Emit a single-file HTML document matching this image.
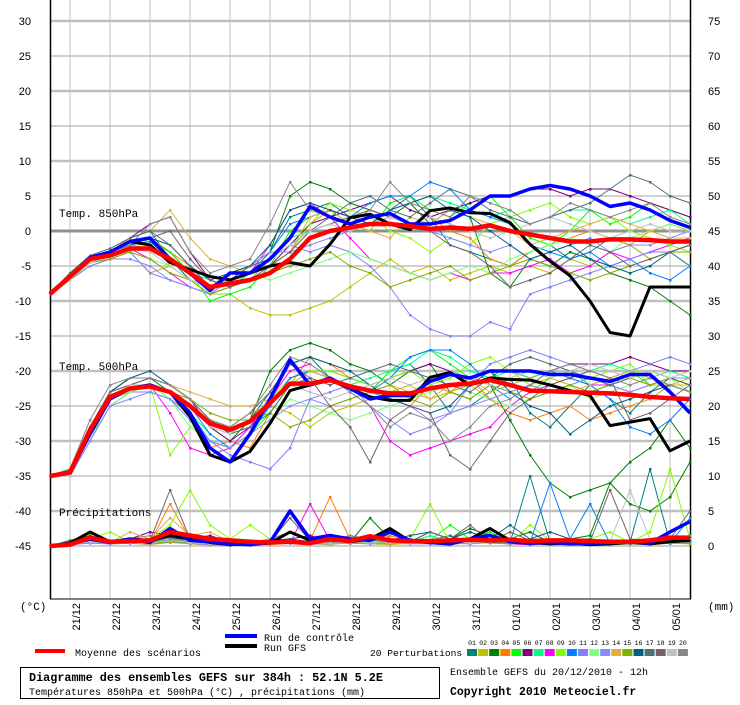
<!DOCTYPE html>
<html><head><meta charset="utf-8"><style>
body{margin:0;background:#fff;}
svg text{font-family:"Liberation Sans",sans-serif;}
.mono{font-family:"Liberation Mono",monospace;}
</style></head><body>
<svg id="c" width="740" height="700" xmlns="http://www.w3.org/2000/svg"></svg>
<script>
// ---- data (12h steps from 20/12 12h to 05/01 00h) ----
const dates=["21/12","22/12","23/12","24/12","25/12","26/12","27/12","28/12","29/12","30/12","31/12","01/01","02/01","03/01","04/01","05/01"];
const leftTicks=[30,25,20,15,10,5,0,-5,-10,-15,-20,-25,-30,-35,-40,-45];
const rightTicks=[75,70,65,60,55,50,45,40,35,30,25,20,15,10,5,0];
const pertColors=["#008080","#c0c000","#008000","#ff8000","#00ff00","#800080","#00ff80","#ff00ff","#80ff00","#0080ff","#8080ff","#80ff80","#8888ff","#e0b040","#80b000","#006080","#507078","#786070","#c0c0c0","#888888"];
const mean850=[-9,-6.5,-4,-3.5,-2.5,-2.5,-4,-6,-8,-7.5,-7,-6,-4,-1,0,0.5,1,1,0.7,0.3,0.5,0.3,0.8,0,-0.5,-1,-1.5,-1.5,-1.2,-1.2,-1.3,-1.5,-1.5];
const ctrl850=[-9,-6.5,-3.8,-3,-1.5,-1,-4,-6,-8.5,-6,-6,-4,-1,3.5,2,1,2,2.5,1,1,1.5,3,5,5,6,6.5,6,5,3.5,4,3,1.5,0.5];
const gfs850=[-9,-6.5,-4,-3,-1.5,-2,-4.5,-5.5,-6.5,-7,-6,-5,-4.5,-5,-1.9,1.9,2.4,1,0.2,2.9,3.3,2.6,2.5,1.2,-1.9,-4.3,-6.4,-10,-14.5,-15,-8,-8,-8];
const mean500=[-35,-34.5,-28.4,-23.7,-22.5,-22.2,-23,-25,-27.5,-28.4,-27.2,-24.6,-21.8,-21.8,-21.3,-22.2,-22.8,-23.2,-23.2,-22.5,-22,-21.8,-21.3,-22,-22.8,-22.9,-23,-23.1,-23.2,-23.4,-23.7,-23.9,-24];
const ctrl500=[-35,-34.5,-29,-24,-22.5,-22,-23,-26,-31,-33,-29,-24,-18.4,-22,-21,-22.5,-24,-23.5,-23.5,-21.5,-20.5,-21,-20,-20,-20,-20.5,-20.5,-21,-21.5,-20.5,-20.5,-23,-26];
const gfs500=[-35,-34.5,-29,-24,-22.5,-22,-23,-26.5,-32,-33,-31.5,-27.5,-22.8,-22,-21.3,-22.5,-23.7,-24.2,-24.2,-20.9,-20.2,-22,-21,-21.2,-21.3,-22,-22.8,-23.5,-27.8,-27.3,-26.8,-31.4,-30];
const meanPr=[0,0.2,1.2,0.6,0.7,0.8,2,1.5,1,0.8,0.6,0.5,0.6,0.4,1,0.7,1.4,0.8,0.7,0.7,0.8,0.9,0.8,0.9,0.7,0.8,0.8,0.7,0.6,0.6,0.8,1.2,1.2];
const ctrlPr=[0,0.3,1,0.5,1,0.5,2.5,0.8,0.6,0.3,0.2,0.5,5,1,1.5,1,0.8,2,0.8,0.5,0.3,1,1.5,0.6,0.4,0.5,0.3,0.4,0.5,0.6,0.4,2,3.5];
const gfsPr=[0,0.4,2,0.6,1,0.8,1.5,1,0.5,0.2,0.3,0.4,2,0.8,1,0.6,1,2.5,0.7,0.6,0.4,1,2.5,0.8,0.5,0.3,0.4,0.2,0.3,0.5,0.3,0.6,0.8];
const p850=[
[-9,-6,-3.5,-3,-1,0,-4,-7,-8,-7,-6,-3,2,3,4,2,1,3,5,2,-2,-3,-4,-5,-3,-2,-4,-3,-1,-2,-4,-3,-5],
[-9,-7,-4.5,-4,-3,-6,-5,-7,-9,-9,-11,-12,-12,-11,-10,-8,-6,-4,-6,-5,-7,-6,-5,-6,-5,-6,-4,-5,-3,-2,-4,-3,-2],
[-9,-6,-4,-3,-1.5,-1,-3,-6,-8,-6,-5,-3,5,7,6,4,3,2,4,1,3,2,-6,-8,-4,-5,-3,-4,-6,-7,-8,-10,-12],
[-9,-6.5,-4,-3,-2,-1,-3,-5,-7,-8,-7,-5,-3,1,3,2,1,2,1,2,0,-1,-4,-5,-3,-2,-1,0,-1,-2,0,1,0],
[-9,-6.5,-4,-3,-2,-1.5,-3,-6,-10,-9,-8,-5,0,2,3,1,0,4,5,3,2,4,5,2,-1,-2,0,3,1,2,4,3,2],
[-9,-6.5,-4,-3,-1,1,2,-3,-7,-8,-6,-5,-2,1,2,3,4,5,3,2,3,4,5,5,6,6,5,6,6,5,4,3,2],
[-9,-7,-4.5,-3.5,-2,-2.5,-4,-6,-7,-8,-6,-4,-1,0,1,2,1,3,4,5,4,3,2,3,1,2,3,3,2,1,2,3,1],
[-9,-7,-4,-3.5,-2.5,-4,-6,-8,-9,-7,-6,-2,3,4,2,-1,-4,-5,-6,-7,-6,-7,-6,-6,-5,-4,-6,-5,-3,-4,-3,-2,-1],
[-9,-7,-5,-4,-3,-1,-5,-7,-9,-8,-7,-5,-3,1,4,3,2,0,-1,-3,-1,-2,1,2,3,4,2,1,2,0,-1,-2,-3],
[-9,-6.5,-4,-3,-2,-1.5,-4,-6,-8,-7,-5,-3,1,2,3,2,4,5,5,7,6,3,2,1,-2,-3,-4,-3,-5,-4,-6,-7,-5],
[-9,-7,-5,-4,-3,-6,-7,-8,-9,-8,-7,-4,-2,-3,-2,-3,-5,-8,-12,-14,-15,-15,-13,-14,-9,-8,-7,-6,-5,-4,-3,-3,-3],
[-9,-7,-4.5,-4,-3,-4,-5,-7,-8,-7,-6,-7,-6,-5,-4,-3,-4,-5,-6,-7,-6,-5,-6,-4,-3,-2,-1,-2,-3,-1,0,1,0],
[-9,-7,-5,-4,-4,-5,-7,-8,-9,-7,-5,-3,-3,-2,-1,0,1,2,1,0,-1,-2,-3,-2,-4,-3,-2,-1,-3,-2,-2,-1,0],
[-9,-6,-3.5,-3,-1,0,3,-1,-4,-5,-6,-5,-3,2,3,1,0,-1,2,1,3,2,1,0,-2,-1,0,1,2,1,0,-1,-1],
[-9,-7,-4.5,-4,-3,-4,-6,-7,-9,-8,-7,-6,-5,-4,-3,-5,-6,-8,-7,-6,-5,-7,-6,-5,-4,-5,-6,-7,-6,-5,-4,-3,-3],
[-9,-6.5,-4,-3,-2,-1,-2,-5,-7,-6,-5,-2,3,4,3,2,1,3,4,5,3,2,0,-2,-4,-3,-2,-4,-5,-6,-5,-3,-2],
[-9,-6,-3.5,-2.5,-1,0,-2,-5,-8,-7,-5,-4,-2,0,2,4,5,3,2,4,6,5,3,2,1,2,3,4,6,8,7,5,4],
[-9,-6.5,-4,-3,-2,-1,0,-4,-7,-8,-7,-5,-3,0,1,2,3,2,1,0,-2,-3,-5,-8,-7,-6,-4,-2,-3,-5,-4,-3,-2],
[-9,-7,-4.5,-3.5,-2.5,-3,-5,-7,-8,-7,-6,-4,-2,0,1,0,1,2,1,2,1,0,-1,0,1,2,1,0,-1,0,1,0,0],
[-9,-6.5,-4,-3,-2,1,2,-3,-6,-5,-4,1,7,3,2,1,3,7,4,3,2,5,4,3,1,2,4,3,2,3,4,2,1]];
const p500=[
[-35,-34,-28,-23,-21,-21,-22,-24,-27,-29,-27,-23,-19,-18,-21,-22,-23,-20,-19,-22,-26,-25,-23,-21,-26,-28,-25,-22,-24,-26,-23,-21,-22],
[-35,-35,-29,-24,-23,-22,-23,-25,-27,-28,-26,-25,-26,-28,-26,-25,-24,-23,-22,-24,-23,-22,-24,-23,-22,-21,-22,-23,-22,-21,-22,-22,-21],
[-35,-34,-28,-23,-21,-21,-23,-25,-28,-30,-27,-20,-17,-16,-17,-19,-20,-22,-20,-19,-23,-24,-22,-27,-32,-36,-38,-37,-36,-33,-31,-27,-31],
[-35,-34.5,-29,-24,-22,-22,-23,-26,-31,-30,-31,-26,-22,-18,-19,-21,-22,-24,-25,-22,-23,-21,-24,-26,-27,-26,-25,-27,-26,-25,-24,-22,-22],
[-35,-35,-29,-24,-23,-22,-24,-26,-30,-31,-29,-26,-22,-20,-21,-22,-23,-20,-18,-17,-19,-21,-20,-22,-23,-21,-20,-22,-21,-20,-22,-21,-21],
[-35,-34.5,-29,-23,-21,-21,-22,-24,-28,-30,-28,-25,-21,-20,-20,-21,-22,-21,-20,-19,-20,-21,-20,-20,-21,-20,-19,-19,-19,-18,-19,-20,-20],
[-35,-34.5,-29,-24,-22,-22,-23,-26,-29,-31,-29,-25,-21,-20,-21,-22,-21,-20,-19,-17,-18,-20,-21,-20,-21,-20,-21,-20,-19,-20,-21,-20,-21],
[-35,-35,-30,-25,-23,-22,-26,-31,-32,-31,-28,-24,-20,-19,-21,-23,-25,-30,-32,-31,-30,-29,-28,-25,-23,-22,-21,-22,-22,-23,-22,-21,-22],
[-35,-35,-30,-24,-23,-22,-32,-28,-30,-31,-29,-24,-21,-20,-20,-21,-22,-21,-20,-22,-21,-19,-18,-20,-22,-23,-22,-21,-20,-19,-22,-21,-23],
[-35,-34.5,-29,-24,-22,-22,-23,-25,-29,-31,-29,-25,-21,-20,-21,-22,-23,-21,-18,-17,-17,-19,-22,-24,-22,-20,-21,-22,-24,-28,-29,-27,-24],
[-35,-35,-30,-25,-23,-23,-24,-26,-30,-32,-33,-34,-31,-24,-23,-22,-25,-27,-29,-28,-26,-22,-19,-18,-17,-18,-19,-20,-21,-20,-19,-18,-19],
[-35,-35,-30,-25,-23,-22,-24,-28,-30,-31,-29,-27,-24,-25,-26,-27,-26,-25,-24,-23,-22,-23,-24,-25,-24,-23,-22,-24,-23,-22,-21,-22,-23],
[-35,-35,-30,-25,-24,-23,-24,-27,-30,-31,-29,-27,-25,-24,-25,-24,-23,-24,-25,-27,-26,-25,-24,-23,-22,-23,-22,-21,-22,-23,-22,-21,-21],
[-35,-34.5,-29,-23,-21,-21,-22,-23,-24,-25,-25,-24,-22,-20,-21,-22,-23,-22,-23,-24,-22,-21,-23,-22,-21,-22,-23,-22,-21,-20,-21,-22,-22],
[-35,-34.5,-29,-24,-22,-22,-23,-24,-26,-27,-27,-26,-28,-27,-25,-24,-23,-22,-24,-25,-23,-24,-22,-23,-24,-23,-22,-23,-22,-21,-22,-21,-22],
[-35,-34.5,-28,-23,-21,-20,-22,-24,-27,-29,-27,-24,-19,-18,-19,-20,-22,-24,-25,-26,-25,-22,-20,-23,-25,-26,-29,-27,-25,-24,-23,-22,-23],
[-35,-34.5,-29,-23,-22,-21,-22,-24,-27,-29,-28,-26,-22,-21,-22,-21,-20,-19,-20,-21,-22,-23,-21,-19,-18,-19,-20,-21,-22,-21,-20,-21,-22],
[-35,-34,-28,-23,-22,-21,-22,-24,-27,-28,-26,-23,-19,-21,-25,-28,-33,-27,-25,-26,-32,-34,-30,-26,-24,-22,-21,-20,-21,-27,-26,-24,-22],
[-35,-35,-29,-24,-22,-22,-23,-25,-28,-29,-27,-24,-22,-23,-24,-23,-22,-21,-22,-21,-20,-21,-22,-21,-20,-21,-20,-19,-20,-21,-20,-21,-20],
[-35,-34,-27,-22,-21,-21,-22,-24,-27,-28,-26,-22,-18,-19,-21,-23,-25,-28,-26,-27,-30,-28,-25,-24,-22,-20,-19,-20,-21,-22,-21,-22,-23]];
const pPr=[
[0,0.5,1,0.3,0.8,0.5,1.5,0.4,0.2,0.1,0.3,0.5,1,0.6,0.3,1.5,0.6,1,0.4,0.8,1.5,0.5,2,0.5,10,0.6,1,0.4,0.2,0.5,11,0.5,0.4],
[0,0.2,0.5,0.3,0.4,0.2,0.5,0.3,0.1,0.2,0.1,0.2,0.4,0.3,0.2,0.5,0.3,0.2,0.4,0.3,0.2,0.5,0.4,0.3,0.2,0.3,0.4,0.3,0.2,0.3,0.5,0.4,0.3],
[0,0.8,1.5,0.5,1,0.6,1,0.5,0.3,0.2,0.2,0.6,2,1,0.8,0.5,4,1,0.6,2,1,2.5,1.5,1,2,0.5,1,1.5,9,6,5,7,12],
[0,0.3,0.6,0.5,0.6,0.5,6,1,0.5,0.3,0.8,0.6,0.5,0.8,7,1,1,1.5,0.6,0.3,0.5,0.8,0.6,0.3,0.2,0.5,0.4,0.3,0.3,0.4,0.2,0.4,0.5],
[0,0.4,1.8,0.5,0.7,0.5,1,0.6,0.4,0.2,0.3,0.6,0.8,0.5,0.6,0.8,1,0.6,0.5,0.8,3,1,2,0.6,0.5,0.4,0.6,0.5,0.3,0.6,0.4,0.5,0.6],
[0,0.6,0.8,0.5,1,2,1.5,1,1.5,0.5,0.4,0.8,1,1.5,0.6,0.4,0.8,1,0.6,0.5,0.8,1,2.5,0.6,0.8,0.5,0.4,0.6,0.8,0.6,0.7,0.8,1],
[0,0.3,0.8,0.4,0.5,0.4,0.8,0.5,0.3,0.2,0.2,0.4,0.6,0.5,0.4,0.6,0.5,1,0.5,1.5,0.6,0.5,1,0.4,0.6,0.5,0.4,0.5,0.3,0.4,0.3,0.5,0.6],
[0,0.2,0.5,0.3,0.4,0.3,0.6,0.4,0.2,0.1,0.2,0.3,0.4,6,0.8,0.5,0.6,2,0.6,0.3,0.4,0.6,0.5,0.3,0.2,0.4,0.3,0.2,0.3,0.4,0.3,0.5,0.4],
[0,0.5,1,2,0.6,1,3,8,3,1,3,1,0.6,0.5,0.4,0.5,0.6,0.8,1,6,0.5,0.6,1.5,0.4,3,0.8,0.6,1,2,0.5,2,11,1],
[0,0.3,0.6,0.4,0.5,0.4,1,0.5,0.3,0.2,0.2,0.5,0.6,0.4,0.5,0.6,0.5,0.8,0.6,0.4,0.5,0.6,1,0.8,0.5,9,1,6,0.4,0.6,0.5,0.4,4],
[0,0.2,0.5,0.3,0.6,0.5,0.8,0.5,0.3,0.2,0.2,0.4,0.5,0.3,0.4,0.5,0.4,0.6,0.5,0.3,0.4,0.5,0.6,0.4,0.5,0.6,0.5,0.4,0.6,0.5,1,0.8,1.5],
[0,0.3,0.6,0.4,0.5,0.6,1,0.6,0.4,0.3,0.2,0.4,0.5,0.4,0.6,0.5,0.4,0.5,0.4,0.6,0.5,0.4,0.6,1,0.5,0.6,0.5,0.4,0.5,0.6,0.5,0.7,0.6],
[0,0.2,0.4,0.3,0.4,0.3,0.6,0.4,0.2,0.2,0.1,0.3,0.4,0.3,0.3,0.4,0.3,0.4,0.3,0.3,0.4,0.3,0.5,0.3,0.4,0.3,0.4,0.3,0.4,0.3,0.4,0.5,0.4],
[0,0.4,0.8,0.5,2,1,4,1.5,2,0.6,0.4,0.5,0.8,0.6,0.5,0.7,0.6,0.5,0.6,0.5,0.4,0.6,0.5,0.8,0.6,0.5,0.4,0.6,0.5,0.4,1,0.6,0.5],
[0,0.3,0.7,0.4,0.5,0.4,0.6,0.5,0.3,0.2,0.3,0.4,0.5,0.4,0.5,0.4,0.6,0.5,0.4,0.5,0.4,0.6,0.5,0.4,0.5,0.4,0.3,0.5,0.4,0.3,0.4,0.5,0.4],
[0,0.5,1,0.6,0.8,0.6,1.2,0.8,0.5,0.3,0.4,0.8,1,0.6,0.8,0.6,1,0.8,1.5,2,1,2,1,3,1,2,1,1,0.5,0.8,0.6,1,0.8],
[0,0.3,0.7,0.4,0.6,0.5,0.8,0.6,0.4,0.3,0.3,0.5,0.6,0.5,0.6,0.5,0.6,0.5,0.6,0.5,0.6,0.7,0.5,0.6,1,0.8,0.5,0.6,0.5,0.4,1,0.6,0.5],
[0,0.4,0.8,0.5,1,0.8,8,1,0.5,0.3,0.4,0.6,4,0.8,0.6,0.5,0.8,1,0.6,2,1,3,0.6,2,0.8,0.5,0.4,0.6,8,1,0.8,1,5],
[0,0.3,0.6,0.4,0.5,0.4,0.8,0.5,0.3,0.2,0.3,0.4,0.6,0.5,0.4,0.5,0.6,0.5,0.4,0.5,0.6,0.5,0.6,1,0.5,0.6,0.8,0.5,0.6,8,1,0.6,0.5],
[0,0.5,1,0.6,1,1.5,1,0.8,0.6,0.4,0.5,1,2,1,0.8,1.5,1,0.8,1,0.6,1,0.8,1,0.6,0.8,0.6,0.5,0.6,0.5,0.6,0.8,0.6,0.5]];
// ---- scales ----
const X0=50, DX=20;
function xs(i){return X0+i*DX;}
function yT(t){return 231-t*7;}
function yP(p){return 546-p*7;}
const NS="http://www.w3.org/2000/svg";
const svg=document.getElementById('c');
function el(tag,attrs,parent){const e=document.createElementNS(NS,tag);for(const k in attrs)e.setAttribute(k,attrs[k]);(parent||svg).appendChild(e);return e;}
function txt(x,y,s,attrs){const t=el('text',Object.assign({x:x,y:y},attrs||{}));t.textContent=s;return t;}

// grid
const grid=el('g',{});


for(let k=0;k<16;k++){
  const x=70+k*40;
  el('line',{x1:x,y1:0,x2:x,y2:599,stroke:'#c0c0c0','stroke-width':1},grid);
}
leftTicks.forEach(function(v){
  const y=yT(v);
  const thick=(v%10===0);
  el('line',{x1:50,y1:y,x2:690,y2:y,stroke:v===0?'#909090':'#c0c0c0','stroke-width':v===0?3:(thick?2.5:1.5)},grid);
});
// axes
el('line',{x1:50.5,y1:0,x2:50.5,y2:599,stroke:'#000','stroke-width':1.5});
el('line',{x1:690.5,y1:0,x2:690.5,y2:599,stroke:'#000','stroke-width':1.5});
el('line',{x1:50,y1:599,x2:691,y2:599,stroke:'#000','stroke-width':1});

// tick labels
leftTicks.forEach(function(v){
  const t=txt(31,yT(v)+4,String(v),{'font-size':11,'text-anchor':'end',fill:'#000'});
  
  
});
rightTicks.forEach(function(v,i){
  const t=txt(708,yT(leftTicks[i])+4,String(v),{'font-size':11,fill:'#000'});
  
  
});
dates.forEach(function(d,i){
  const x=80+i*40;
  const t=txt(0,0,d,{'font-size':11,'text-anchor':'end',transform:'translate('+x+',603) rotate(-90)'});
  
  
});

// series drawing
function pts(arr,yf){return arr.map(function(v,i){return xs(i)+','+yf(v).toFixed(1);}).join(' ');}
function pline(arr,yf,color,w,markers){
  const g=el('g',{});
  
  
  el('polyline',{points:pts(arr,yf),fill:'none',stroke:color,'stroke-width':w,'stroke-linejoin':'round'},g);
  if(markers){arr.forEach(function(v,i){el('rect',{x:xs(i)-1,y:yf(v)-1,width:2.5,height:2.5,fill:color},g);});}
  return g;
}
[[p850,yT],[p500,yT],[pPr,yP]].forEach(function(pair){
  pair[0].forEach(function(s,k){const g=pline(s,pair[1],pertColors[k],1,true);});
});
const gf1=pline(gfs850,yT,'#000',3,false);
const gf2=pline(gfs500,yT,'#000',3,false);
const gf3=pline(gfsPr,yP,'#000',3,false);
const c1=pline(ctrl850,yT,'#0000ff',3.5,false);
const c2=pline(ctrl500,yT,'#0000ff',3.5,false);
const c3=pline(ctrlPr,yP,'#0000ff',3.5,false);
const m1=pline(mean850,yT,'#ff0000',4.5,false);
const m2=pline(mean500,yT,'#ff0000',4.5,false);
const m3=pline(meanPr,yP,'#ff0000',4.5,false);

// section labels
const l1=txt(59,217,'Temp. 850hPa',{'font-size':11,class:'mono'});


const l2=txt(59,370,'Temp. 500hPa',{'font-size':11,class:'mono'});


const l3=txt(59,516,'Précipitations',{'font-size':11,class:'mono'});


const u1=txt(20,610,'(°C)',{'font-size':11,class:'mono'});


const u2=txt(708,610,'(mm)',{'font-size':11,class:'mono'});



// legend
el('line',{x1:35,y1:651,x2:65,y2:651,stroke:'#ff0000','stroke-width':4});
const lg1=txt(75,656,'Moyenne des scénarios',{'font-size':10,class:'mono'});


el('line',{x1:225,y1:636,x2:257,y2:636,stroke:'#0000ff','stroke-width':4});
const lg2=txt(264,641,'Run de contrôle',{'font-size':10,class:'mono'});


el('line',{x1:225,y1:646,x2:257,y2:646,stroke:'#000','stroke-width':4});
const lg3=txt(264,651,'Run GFS',{'font-size':10,class:'mono'});


const lg4=txt(370,656,'20 Perturbations',{'font-size':9.6,class:'mono'});


pertColors.forEach(function(c,k){
  const x=467+k*11.1;
  const r=el('rect',{x:x,y:649,width:10,height:7,fill:c});
  
  
  const n=txt(x+5,645,(k<9?'0':'')+(k+1),{'font-size':6.5,'text-anchor':'middle',class:'mono'});
  
  
});

// footer
const box=el('rect',{x:20.5,y:667.5,width:419,height:31,fill:'none',stroke:'#000','stroke-width':1});


const t1=txt(29,681,'Diagramme des ensembles GEFS sur 384h : 52.1N 5.2E',{'font-size':11.8,'font-weight':'bold',class:'mono'});


const t2=txt(29,695,'Températures 850hPa et 500hPa (°C) , précipitations (mm)',{'font-size':10,class:'mono'});


const t3=txt(450,675,'Ensemble GEFS du 20/12/2010 - 12h',{'font-size':10,class:'mono'});


const t4=txt(450,695,'Copyright 2010 Meteociel.fr',{'font-size':11.5,'font-weight':'bold',class:'mono'});


</script>
</body></html>
